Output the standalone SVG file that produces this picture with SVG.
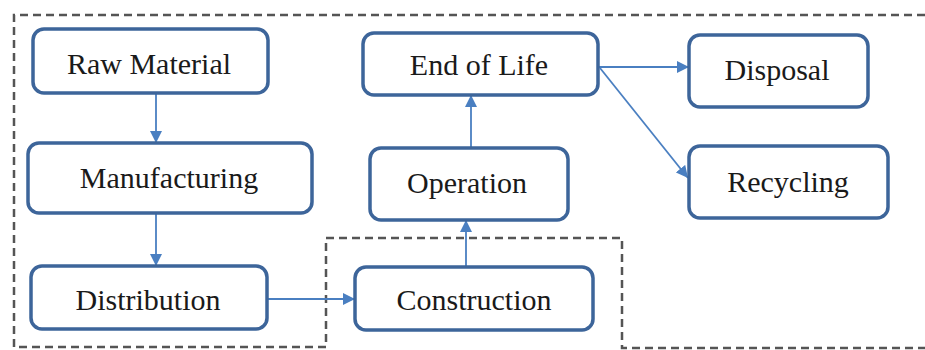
<svg xmlns="http://www.w3.org/2000/svg" width="925" height="350" viewBox="0 0 925 350">
<style>
.box{fill:#fff;stroke:#3d659a;stroke-width:3.5}
.lbl{font-family:"Liberation Serif","Times New Roman",serif;font-size:30px;fill:#1a1a1a;text-anchor:middle}
.edge{stroke:#4a7fc1;stroke-width:1.8;fill:none;marker-end:url(#ah)}
.dash{fill:none;stroke:#555;stroke-width:2.5;stroke-dasharray:8 5}
</style>
<defs>
<marker id="ah" viewBox="0 0 10 10" refX="10" refY="5" markerWidth="12" markerHeight="12" orient="auto" markerUnits="userSpaceOnUse">
<path d="M0,0 L10,5 L0,10 z" fill="#4a7fc1"/>
</marker>
</defs>
<path class="dash" d="M925,15 L14,15 L14,347 L326,347 L326,238 L622,238 L622,348 L925,348"/>
<g id="connectors">
<line class="edge" x1="156" y1="93" x2="156" y2="143"/>
<line class="edge" x1="156" y1="213" x2="156" y2="266"/>
<line class="edge" x1="267" y1="299" x2="355" y2="299"/>
<line class="edge" x1="466" y1="267" x2="466" y2="220"/>
<line class="edge" x1="471" y1="148" x2="471" y2="95"/>
<line class="edge" x1="598" y1="67" x2="689" y2="67"/>
<line class="edge" x1="600" y1="68" x2="688" y2="178"/>
</g>
<g id="raw-material"><rect class="box" x="33" y="29" width="235" height="64" rx="11"/><text class="lbl" x="149" y="74">Raw Material</text></g>
<g id="manufacturing"><rect class="box" x="28" y="143" width="284" height="70" rx="11"/><text class="lbl" x="169" y="188">Manufacturing</text></g>
<g id="distribution"><rect class="box" x="31" y="266" width="236" height="63" rx="11"/><text class="lbl" x="148" y="310">Distribution</text></g>
<g id="construction"><rect class="box" x="355" y="267" width="238" height="63" rx="11"/><text class="lbl" x="474" y="310">Construction</text></g>
<g id="operation"><rect class="box" x="370" y="148" width="198" height="72" rx="11"/><text class="lbl" x="467" y="193">Operation</text></g>
<g id="end-of-life"><rect class="box" x="363" y="33" width="235" height="62" rx="11"/><text class="lbl" x="479" y="75">End of Life</text></g>
<g id="disposal"><rect class="box" x="689" y="35" width="179" height="72" rx="11"/><text class="lbl" x="777" y="80">Disposal</text></g>
<g id="recycling"><rect class="box" x="689" y="146" width="199" height="72" rx="11"/><text class="lbl" x="788" y="192">Recycling</text></g>
</svg>
